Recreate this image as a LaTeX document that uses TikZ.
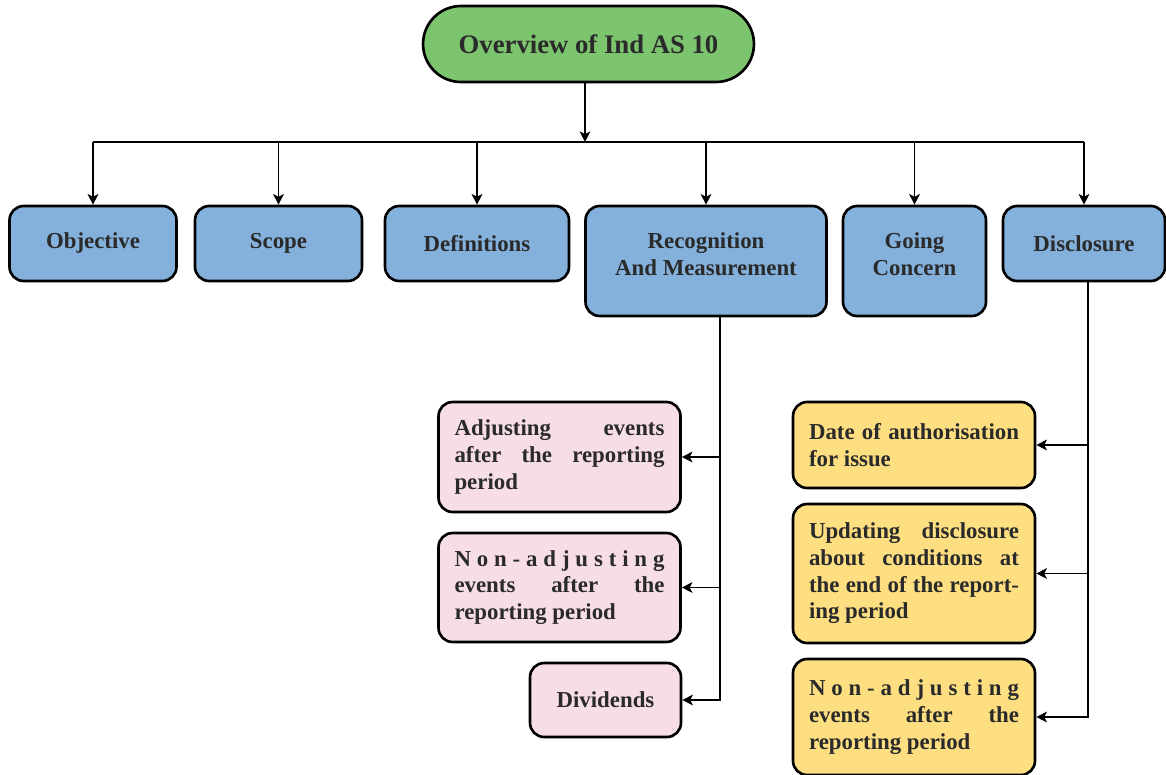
\documentclass[tikz,border=0pt]{standalone}
\usepackage{fontspec}
\setmainfont{Liberation Serif}
\usepackage{xcolor}
\usepackage{tikz}
\usetikzlibrary{arrows.meta, calc}
\definecolor{ovgreen}{HTML}{7CC46E}
\definecolor{topicblue}{HTML}{84B1DC}
\definecolor{rmpink}{HTML}{F7DDE8}
\definecolor{discyellow}{HTML}{FDDF82}
\definecolor{inkgray}{HTML}{2A2A2A}

\newcommand{\fullline}[1]{\makebox[\linewidth][s]{\spaceskip=0pt\xspaceskip=0pt #1}}

\tikzset{
  box/.style={draw=black, line width=1.5pt, rounded corners=8pt, text=inkgray,
              font=\fontsize{13}{15.2}\selectfont\bfseries, align=center},
  topicbox/.style={box, fill=topicblue, minimum height=1.5cm},
  pinkbox/.style={box, fill=rmpink, minimum width=4.84cm, text width=4.2cm, align=justify},
  yellowbox/.style={box, fill=discyellow, minimum width=4.84cm, text width=4.2cm, align=justify},
  conn/.style={draw=black, line width=1.1pt},
  arr/.style={conn, -{Stealth[length=6pt, width=6pt, inset=1.5pt]}}
}

\begin{document}
\begin{tikzpicture}[x=0.02cm, y=-0.02cm]
  \useasboundingbox (0,0) rectangle (1166,774);

  % title
  \node[box, fill=ovgreen, minimum width=6.62cm, minimum height=1.52cm,
        rounded corners=0.76cm, font=\fontsize{15.2}{18}\selectfont\bfseries]
        (top) at (588.5,44) {Overview of Ind AS 10};

  % main topics
  \node[topicbox, minimum width=3.34cm] (obj) at (93,243.5) {Objective};
  \node[topicbox, minimum width=3.34cm] (scope) at (278.5,243.5) {Scope};
  \node[topicbox, minimum width=3.68cm] (defs) at (477,243.5) {Definitions};
  \node[topicbox, minimum width=4.82cm, minimum height=2.2cm] (recog) at (706,261)
        {Recognition\\And Measurement\\[-7pt]\mbox{}};
  \node[topicbox, minimum width=2.86cm, minimum height=2.2cm] (going) at (914.5,261)
        {Going\\Concern\\[-7pt]\mbox{}};
  \node[topicbox, minimum width=3.24cm] (disc) at (1084,243.5) {Disclosure};

  % recognition and measurement
  \node[pinkbox, minimum height=2.2cm] (adj) at (559.5,457)
        {\fullline{Adjusting events}\\\fullline{after the reporting}\\period};
  \node[pinkbox, minimum height=2.18cm] (nadj) at (559.5,587.5)
        {\fullline{N o n - a d j u s t i n g}\\\fullline{events after the}\\reporting period};
  \node[box, fill=rmpink, minimum width=3.02cm, minimum height=1.48cm] (divd) at (605.5,700)
        {Dividends};

  % disclosure
  \node[yellowbox, minimum height=1.72cm] (date) at (914,445)
        {\fullline{Date of authorisation}\\for issue};
  \node[yellowbox, minimum height=2.78cm] (upd) at (914,573.5)
        {\fullline{Updating disclosure}\\\fullline{about conditions at}\\\fullline{the end of the report-}\\ing period};
  \node[yellowbox, minimum height=2.32cm] (ynadj) at (914,717)
        {\fullline{N o n - a d j u s t i n g}\\\fullline{events after the}\\reporting period};

  % connectors
  \coordinate (bus) at (585,142);
  \draw[arr] (top.south -| bus) -- (bus);
  \draw[conn] (obj.north |- bus) -- (disc.north |- bus);
  \foreach \n in {obj,scope,defs,recog,going,disc}
    \draw[arr] (\n.north |- bus) -- (\n.north);
  \foreach \n in {adj,nadj,divd}
    \draw[arr] ([xshift=0.28cm]recog.south) |- (\n.east);
  \foreach \n in {date,upd,ynadj}
    \draw[arr] ([xshift=0.08cm]disc.south) |- (\n.east);
\end{tikzpicture}
\end{document}
